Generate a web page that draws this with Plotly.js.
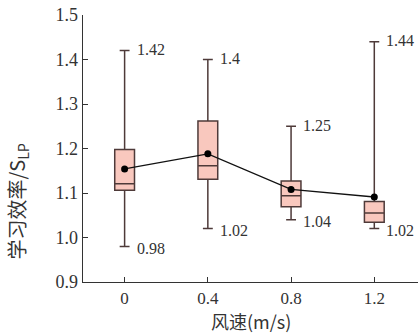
<!DOCTYPE html>
<html>
<head>
<meta charset="utf-8">
<script src="https://cdn.plot.ly/plotly-3.0.1.min.js"></script>
<style>html,body{margin:0;padding:0;background:#fff;}#chart{width:420px;height:333px;}</style>
</head>
<body>
<div id="chart"></div>
<script>
const windSpeed = [0, 0.4, 0.8, 1.2];
const lowerWhisker = [0.98, 1.02, 1.04, 1.02];
const q1 = [1.106, 1.131, 1.069, 1.034];
const median = [1.121, 1.161, 1.094, 1.055];
const q3 = [1.198, 1.262, 1.127, 1.081];
const upperWhisker = [1.42, 1.40, 1.25, 1.44];
const meanValue = [1.154, 1.188, 1.108, 1.091];
const xTickVals = [0, 0.4, 0.8, 1.2];
const xTickText = ['0', '0.4', '0.8', '1.2'];
const yTickVals = [0.9, 1.0, 1.1, 1.2, 1.3, 1.4, 1.5];
const yTickText = ['0.9', '1.0', '1.1', '1.2', '1.3', '1.4', '1.5'];
const upperLabels = ['1.42', '1.4', '1.25', '1.44'];
const lowerLabels = ['0.98', '1.02', '1.04', '1.02'];

const numFont = "'Liberation Serif', 'DejaVu Serif', serif";
const cjkFont = "'Noto Sans CJK SC', sans-serif";

const boxTrace = {
  type: 'box',
  x: windSpeed,
  q1: q1,
  median: median,
  q3: q3,
  lowerfence: lowerWhisker,
  upperfence: upperWhisker,
  width: 0.095,
  whiskerwidth: 0.5,
  fillcolor: '#f9c8be',
  line: {color: '#4e3a39', width: 1.5},
  hoverinfo: 'skip',
  showlegend: false
};

const meanTrace = {
  type: 'scatter',
  mode: 'lines+markers',
  x: windSpeed,
  y: meanValue,
  line: {color: '#111', width: 1.3},
  marker: {color: '#000', size: 7},
  showlegend: false,
  hoverinfo: 'skip'
};

const annotations = [];
for (let i = 0; i < windSpeed.length; i++) {
  annotations.push({x: windSpeed[i], y: upperWhisker[i], xref: 'x', yref: 'y', text: upperLabels[i],
    showarrow: false, xanchor: 'left', xshift: 10, yshift: 1, font: {family: numFont, size: 16, color: '#333'}});
  annotations.push({x: windSpeed[i], y: lowerWhisker[i], xref: 'x', yref: 'y', text: lowerLabels[i],
    showarrow: false, xanchor: 'left', xshift: 10, yshift: -2, font: {family: numFont, size: 16, color: '#333'}});
}
annotations.push({
  xref: 'paper', yref: 'paper', x: -0.195, y: 0.3, xanchor: 'center', yanchor: 'middle',
  text: '学习效率/S<sub>LP</sub>', textangle: -90, showarrow: false,
  font: {family: cjkFont, size: 20, color: '#333'}
});
annotations.push({
  xref: 'paper', yref: 'paper', x: 0.5, y: -0.146, xanchor: 'center', yanchor: 'middle',
  text: '风速(m/s)', showarrow: false, borderpad: 0,
  font: {family: cjkFont, size: 18, color: '#333'}
});

const layout = {
  width: 420, height: 333,
  margin: {l: 83, r: 2, t: 15, b: 51},
  paper_bgcolor: '#fff', plot_bgcolor: '#fff',
  xaxis: {
    range: [-0.2, 1.41], tickvals: xTickVals, ticktext: xTickText,
    showline: true, linecolor: '#333', linewidth: 1.3, showgrid: false, zeroline: false,
    ticks: 'inside', ticklen: 5, tickcolor: '#333',
    tickfont: {family: numFont, size: 17, color: '#333'}
  },
  yaxis: {
    range: [0.9, 1.5], tickvals: yTickVals, ticktext: yTickText,
    showline: true, linecolor: '#333', linewidth: 1.3, showgrid: false, zeroline: false,
    ticks: 'inside', ticklen: 5, tickcolor: '#333',
    tickfont: {family: numFont, size: 18, color: '#333'}
  },
  annotations: annotations
};

Plotly.newPlot('chart', [boxTrace, meanTrace], layout, {displayModeBar: false, staticPlot: true});
</script>
</body>
</html>
